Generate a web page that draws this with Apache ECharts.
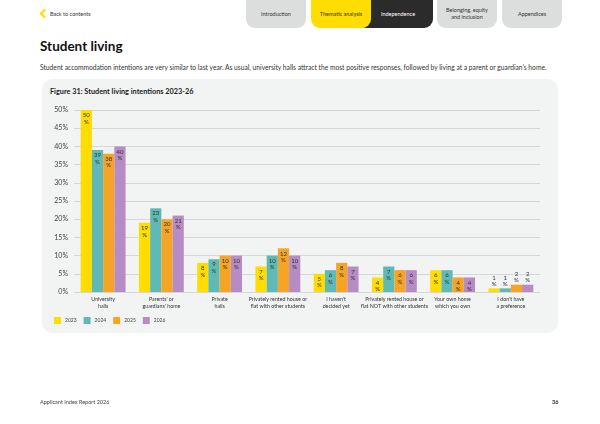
<!DOCTYPE html>
<html>
<head>
<meta charset="utf-8">
<script src="https://cdn.jsdelivr.net/npm/echarts@6/dist/echarts.min.js"></script>
<style>
  body { margin: 0; background: #fff; font-family: Lato, "Open Sans", sans-serif; }
  .page { position: relative; width: 600px; height: 424px; overflow: hidden; }
  .tab { position: absolute; top: 0; height: 28px; border-radius: 0 0 9px 9px; font-size: 5.5px;
         display: flex; align-items: center; justify-content: center; text-align: center; color: #333; line-height: 7px; }
  .back { position: absolute; left: 50px; top: 11px; font-size: 5.5px; color: #333; }
  .chev { position: absolute; left: 41px; top: 10px; width: 5px; height: 5px;
          border-left: 2px solid #ffdd00; border-bottom: 2px solid #ffdd00; transform: rotate(45deg); }
  h1 { position: absolute; left: 40px; top: 38px; margin: 0; font-size: 13.5px; font-weight: 700; color: #111; }
  .sub { position: absolute; left: 40px; top: 63px; font-size: 6.7px; color: #333; white-space: nowrap; }
  .card { position: absolute; left: 42px; top: 79px; width: 516px; height: 254px; background: #f2f3f3; border-radius: 10px; }
  .fig { position: absolute; left: 50px; top: 87px; font-size: 7.3px; font-weight: 700; color: #222; }
  #chart { position: absolute; left: 0; top: 0; width: 600px; height: 424px; }
  .foot { position: absolute; top: 399px; font-size: 5.5px; color: #444; }
</style>
</head>
<body>
<div class="page">
  <div class="chev"></div>
  <div class="back">Back to contents</div>
  <div class="tab" style="left:246px;width:60px;background:#dcdddd;">Introduction</div>
  <div class="tab" style="left:357px;width:76px;background:#2b2b2b;color:#fff;padding-left:6px;box-sizing:border-box;">Independence</div>
  <div class="tab" style="left:311px;width:60px;background:#ffdd00;">Thematic analysis</div>
  <div class="tab" style="left:437px;width:60px;background:#dcdddd;">Belonging, equity<br>and inclusion</div>
  <div class="tab" style="left:502px;width:60px;background:#dcdddd;">Appendices</div>
  <h1>Student living</h1>
  <div class="sub">Student accommodation intentions are very similar to last year. As usual, university halls attract the most positive responses, followed by living at a parent or guardian’s home.</div>
  <div class="card"></div>
  <div class="fig">Figure 31: Student living intentions 2023-26</div>
  <div id="chart"></div>
  <div class="foot" style="left:40px;">Applicant Index Report 2026</div>
  <div class="foot" style="left:552px;font-weight:700;color:#222;">36</div>
</div>
<script>
// 数据
const categories = ['University\nhalls', "Parents' or\nguardians' home", 'Private\nhalls',
  'Privately rented house or\nflat with other students', "I haven't\ndecided yet",
  'Privately rented house or\nflat NOT with other students', 'Your own home\nwhich you own',
  "I don't have\na preference"];
const years = ['2023', '2024', '2025', '2026'];
const v2023 = [50, 19, 8, 7, 5, 4, 6, 1];
const v2024 = [39, 23, 9, 10, 6, 7, 6, 1];
const v2025 = [38, 20, 10, 12, 8, 6, 4, 2];
const v2026 = [40, 21, 10, 10, 7, 6, 4, 2];
const yTicks = [0, 5, 10, 15, 20, 25, 30, 35, 40, 45, 50];

const colors = ['#ffdd00', '#5fbab6', '#f5a426', '#b78bc3'];

(function () {
  let myChart = echarts.init(document.getElementById('chart'));

  // 小数值标签放在柱子上方
  function toData(arr) {
    return arr.map(function (v) {
      return {
        value: v,
        label: v < 3 ? { position: 'top', distance: 1 } : {}
      };
    });
  }

  let option = {
    animation: false,
    color: colors,
    textStyle: { fontFamily: 'Lato' },
    grid: { left: 74, right: 60, top: 110, bottom: 132 },
    legend: {
      left: 49, top: 312,
      icon: 'rect', itemWidth: 7, itemHeight: 7, itemGap: 7,
      textStyle: { fontSize: 5, color: '#444', padding: [0, 0, 0, -1] },
      data: years
    },
    xAxis: {
      type: 'category',
      data: categories,
      axisLine: { show: false },
      axisTick: { show: false },
      axisLabel: { fontSize: 5.3, color: '#333', lineHeight: 7, margin: 4, interval: 0 }
    },
    yAxis: {
      type: 'value',
      min: yTicks[0], max: yTicks[yTicks.length - 1], interval: 5,
      axisLabel: { formatter: '{value}%', fontSize: 7, color: '#444', margin: 6 },
      splitLine: { lineStyle: { color: '#d6d7d7', width: 1 } }
    },
    series: [v2023, v2024, v2025, v2026].map(function (arr, i) {
      return {
        name: years[i],
        type: 'bar',
        data: toData(arr),
        barGap: '0%',
        barCategoryGap: '23%',
        label: {
          show: true,
          position: 'insideTop',
          distance: 2,
          formatter: '{c}\n%',
          fontSize: 6,
          lineHeight: 6.5,
          color: '#333'
        }
      };
    })
  };
  myChart.setOption(option);
})();
</script>
</body>
</html>
